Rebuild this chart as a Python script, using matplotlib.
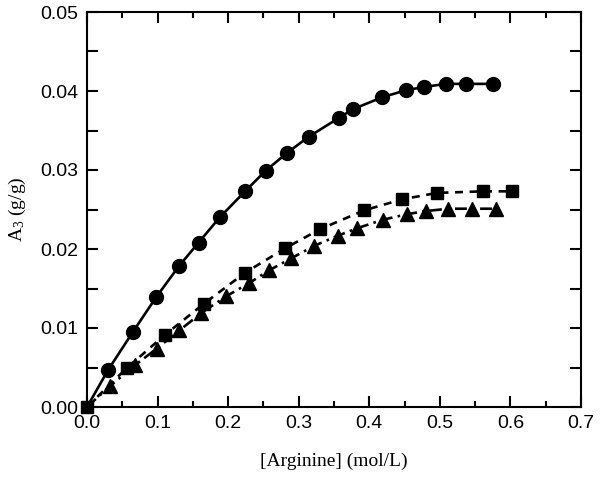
import matplotlib
matplotlib.use('Agg')
import matplotlib.pyplot as plt
from matplotlib.ticker import MultipleLocator

plt.rcParams['mathtext.fontset'] = 'custom'
plt.rcParams['mathtext.rm'] = 'Liberation Serif'
plt.rcParams['mathtext.it'] = 'Liberation Serif'

# circles (solid line)
arg_circ = [0.0, 0.030, 0.065, 0.098, 0.130, 0.158, 0.188, 0.224, 0.253, 0.284,
            0.314, 0.357, 0.377, 0.418, 0.452, 0.477, 0.508, 0.537, 0.576]
a3_circ = [0.0, 0.0047, 0.0095, 0.0139, 0.0178, 0.0208, 0.0240, 0.0273, 0.0299, 0.0322,
           0.0342, 0.0366, 0.0377, 0.0392, 0.0401, 0.0405, 0.0409, 0.0409, 0.0409]

# squares (dashed line)
arg_sq = [0.0, 0.056, 0.110, 0.166, 0.224, 0.281, 0.330, 0.393, 0.447, 0.496, 0.561, 0.602]
a3_sq = [0.0, 0.0049, 0.0091, 0.0131, 0.0170, 0.0201, 0.0225, 0.0249, 0.0263, 0.0271,
         0.0273, 0.0273]

# triangles (dash-dot line)
arg_tri = [0.0, 0.032, 0.068, 0.099, 0.131, 0.162, 0.197, 0.230, 0.258, 0.289, 0.322,
           0.356, 0.382, 0.419, 0.453, 0.480, 0.512, 0.546, 0.579]
a3_tri = [0.0, 0.0026, 0.0053, 0.0074, 0.0097, 0.0119, 0.0140, 0.0157, 0.0173, 0.0188,
          0.0204, 0.0217, 0.0226, 0.0237, 0.0244, 0.0248, 0.0251, 0.0251, 0.0251]

fig = plt.figure(figsize=(6.0, 4.79), dpi=100)
ax = fig.add_axes([87/600, 1-407/479, (581-87)/600, (407-12)/479])

ax.plot(arg_circ, a3_circ, color='black', linewidth=1.9, linestyle='-',
        marker='o', markersize=10, markevery=slice(1, None), clip_on=False, zorder=3)
ax.plot(arg_tri, a3_tri, color='black', linewidth=1.9, linestyle=(0, (4.5, 2, 1, 2)),
        marker='^', markersize=10, markevery=slice(1, None), clip_on=False, zorder=3)
ax.plot(arg_sq, a3_sq, color='black', linewidth=1.9, linestyle=(0, (3, 2.5)),
        marker='s', markersize=9, clip_on=False, zorder=4)

ax.set_xlim(0, 0.7)
ax.set_ylim(0, 0.05)
ax.xaxis.set_major_locator(MultipleLocator(0.1))
ax.xaxis.set_minor_locator(MultipleLocator(0.05))
ax.yaxis.set_major_locator(MultipleLocator(0.01))
ax.yaxis.set_minor_locator(MultipleLocator(0.005))
ax.xaxis.set_major_formatter(plt.FormatStrFormatter('%.1f'))
ax.yaxis.set_major_formatter(plt.FormatStrFormatter('%.2f'))

ax.tick_params(which='both', direction='in', top=True, right=True, width=1.5,
               labelsize=14, pad=6)
ax.tick_params(axis='x', which='major', length=8)
ax.tick_params(axis='x', which='minor', length=4.5)
ax.tick_params(axis='y', which='both', length=8)
for lab in ax.get_xticklabels() + ax.get_yticklabels():
    lab.set_family('Liberation Sans')
for sp in ax.spines.values():
    sp.set_linewidth(1.5)

ax.set_xlabel('[Arginine] (mol/L)', family='Liberation Serif', fontsize=14, labelpad=15)
ax.set_ylabel('A$_3$ (g/g)', family='Liberation Serif', fontsize=14, labelpad=9)

fig.savefig('out.png', dpi=100)
